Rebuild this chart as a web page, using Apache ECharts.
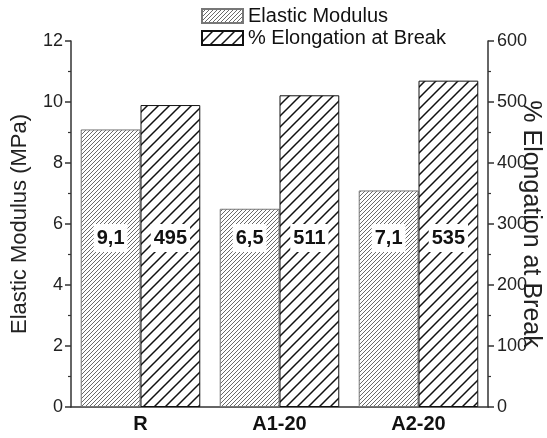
<!DOCTYPE html>
<html>
<head>
<meta charset="utf-8">
<script src="https://cdn.jsdelivr.net/npm/echarts@6/dist/echarts.min.js"></script>
<style>
  html, body { margin: 0; padding: 0; background: #fff; }
  #chart { width: 547px; height: 438px; }
</style>
</head>
<body>
<div id="chart"></div>
<script>
const categories = ["R", "A1-20", "A2-20"];
const modulusValues = [9.1, 6.5, 7.1];
const modulusLabels = ["9,1", "6,5", "7,1"];
const elongationValues = [495, 511, 535];
const elongationLabels = ["495", "511", "535"];

const FONT = "'Liberation Sans', Arial, sans-serif";

// diagonal hatch tile
function hatch(size, color, width) {
  const c = document.createElement("canvas");
  c.width = size;
  c.height = size;
  const ctx = c.getContext("2d");
  ctx.fillStyle = "#fff";
  ctx.fillRect(0, 0, size, size);
  ctx.strokeStyle = color;
  ctx.lineWidth = width;
  ctx.beginPath();
  ctx.moveTo(0, size); ctx.lineTo(size, 0);
  ctx.moveTo(-1, 1); ctx.lineTo(1, -1);
  ctx.moveTo(size - 1, size + 1); ctx.lineTo(size + 1, size - 1);
  ctx.stroke();
  return c;
}

const fine = { image: hatch(4, "#6a6a6a", 1), repeat: "repeat" };
const coarse = { image: hatch(11, "#111", 1.5), repeat: "repeat" };

const labelStyle = {
  show: true,
  position: "insideBottom",
  distance: 155,
  fontFamily: FONT,
  fontWeight: "bold",
  fontSize: 20,
  color: "#111",
  backgroundColor: "#fff",
  padding: [4, 3]
};

const chart = echarts.init(document.getElementById("chart"), null, { renderer: "canvas" });

const axisCommon = {
  type: "value",
  nameLocation: "middle",
  nameMoveOverlap: false,
  axisLine: { show: true, lineStyle: { color: "#333", width: 1.5 } },
  axisTick: { show: true, inside: false, length: 6, lineStyle: { color: "#333", width: 1.5 } },
  minorTick: { show: true, splitNumber: 2, length: 3, lineStyle: { color: "#333", width: 1.2 } },
  axisLabel: { fontFamily: FONT, fontSize: 18, color: "#222", margin: 8 },
  splitLine: { show: false }
};

chart.setOption({
  animation: false,
  grid: { left: 71, right: 59, top: 41, bottom: 31, outerBoundsMode: "none", containLabel: false },
  legend: {
    orient: "vertical",
    left: 196,
    top: 1,
    itemWidth: 41,
    itemHeight: 14,
    itemGap: 2,
    icon: "rect",
    textStyle: { fontFamily: FONT, fontSize: 20, color: "#111" },
    data: ["Elastic Modulus", "% Elongation at Break"]
  },
  xAxis: {
    type: "category",
    data: categories,
    axisLine: { lineStyle: { color: "#333", width: 1.5 } },
    axisTick: { show: false },
    axisLabel: { fontFamily: FONT, fontWeight: "bold", fontSize: 20, color: "#111", margin: 7 }
  },
  yAxis: [
    Object.assign({}, axisCommon, {
      name: "Elastic Modulus (MPa)",
      nameGap: 40,
      nameTextStyle: { fontFamily: FONT, fontSize: 22, color: "#222" },
      min: 0, max: 12, interval: 2,
      position: "left"
    }),
    Object.assign({}, axisCommon, {
      name: "% Elongation at Break",
      nameGap: 30,
      nameRotate: -90,
      nameTextStyle: { fontFamily: FONT, fontSize: 25, color: "#222" },
      min: 0, max: 600, interval: 100,
      position: "right",
      axisLabel: Object.assign({}, axisCommon.axisLabel, { margin: 9 })
    })
  ],
  series: [
    {
      name: "Elastic Modulus",
      type: "bar",
      yAxisIndex: 0,
      barGap: "0%",
      barCategoryGap: "14%",
      itemStyle: { color: fine, borderColor: "#777", borderWidth: 1 },
      label: Object.assign({}, labelStyle, { formatter: p => modulusLabels[p.dataIndex] }),
      data: modulusValues
    },
    {
      name: "% Elongation at Break",
      type: "bar",
      yAxisIndex: 1,
      itemStyle: { color: coarse, borderColor: "#111", borderWidth: 1 },
      label: Object.assign({}, labelStyle, { formatter: p => elongationLabels[p.dataIndex] }),
      data: elongationValues
    }
  ]
});
</script>
</body>
</html>
